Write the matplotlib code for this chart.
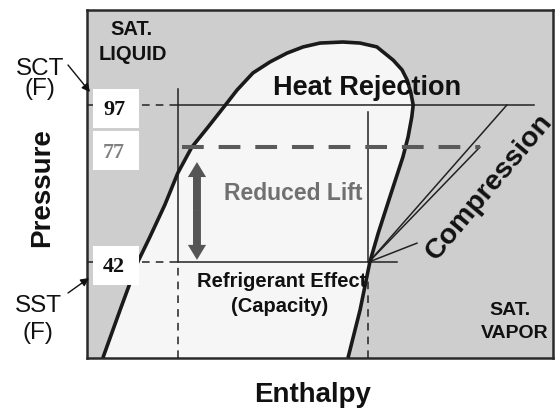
import matplotlib
matplotlib.use("Agg")
import matplotlib.pyplot as plt
from matplotlib.patches import Rectangle
from matplotlib.transforms import Affine2D

# saturation dome (enthalpy, pressure) in schematic units 0..100
dome_h = [3.4, 7.1, 10.9, 13.5, 16.7, 19.5, 22.5, 26.0, 29.7, 32.2, 35.6, 39.3,
          42.9, 46.4, 50.0, 54.9, 58.6, 62.2, 65.7, 67.6, 68.7, 69.5, 70.0, 69.7,
          68.9, 67.8, 65.0, 62.5, 60.7, 58.6, 56.0]
dome_p = [0.0, 13.8, 27.6, 34.8, 44.0, 53.2, 60.6, 66.4, 72.7, 77.0, 81.9, 85.1,
          87.6, 89.4, 90.5, 90.8, 90.5, 89.4, 85.6, 82.8, 79.9, 76.2, 72.7, 69.3,
          63.5, 57.8, 46.3, 35.9, 27.6, 13.8, 0.0]

# saturation temperatures (F) and their pressure levels
sat_temps = ['97', '77', '42']
sat_p = [72.7, 60.6, 27.6]
temp_colors = ['#111111', '#808080', '#111111']

# cycle enthalpies
h_liquid = 19.5
h_suction = 60.5
h_discharge = [90.1, 84.3]      # discharge at 97 F and 77 F
h_rej_end = 95.9
h_evap_end = 66.5

fig = plt.figure(figsize=(5.56, 4.11), dpi=100)
ax = fig.add_axes([87/556, 53/411, 466/556, 348/411])
ax.set_xlim(0, 100)
ax.set_ylim(0, 100)
ax.set_facecolor('#cecece')
ax.set_xticks([])
ax.set_yticks([])
for s in ax.spines.values():
    s.set_color('#2a2a2a')
    s.set_linewidth(1.8)

# dome
ax.fill(dome_h, dome_p, color='#f6f6f6', zorder=1)
ax.plot(dome_h, dome_p, color='#1a1a1a', lw=2.6, zorder=4, solid_capstyle='butt')

thin = dict(color='#222222', lw=1.1, zorder=3)
dash = dict(color='#222222', lw=1.1, ls=(0, (5, 4)), zorder=3)

p_hi, p_mid, p_lo = sat_p

# heat rejection line at 97
ax.plot([0, h_liquid], [p_hi, p_hi], **dash)
ax.plot([h_liquid, h_rej_end], [p_hi, p_hi], **thin)
# evaporation line at 42
ax.plot([0, h_liquid], [p_lo, p_lo], **dash)
ax.plot([h_liquid, h_evap_end], [p_lo, p_lo], **thin)
# verticals
ax.plot([h_liquid, h_liquid], [p_lo, 77.3], **thin)
ax.plot([h_liquid, h_liquid], [0, p_lo], **dash)
ax.plot([h_suction - 0.3, h_suction - 0.3], [p_lo, 70.7], **thin)
ax.plot([h_suction - 0.3, h_suction - 0.3], [0, p_lo], **dash)

# reduced condensing at 77
ax.plot([h_liquid + 0.9, h_discharge[1]], [p_mid, p_mid], color='#5a5a5a',
        lw=2.9, ls=(0, (5.4, 3.7)), zorder=5)

# compression lines
ax.plot([h_suction, h_discharge[0]], [p_lo, p_hi], **thin)
ax.plot([h_suction, h_discharge[1]], [p_lo, p_mid], **thin)
ax.plot([h_suction, 70.8], [p_lo, 33.0], **thin)

# reduced lift double arrow
x_arr = 23.6
y_top, y_bot = 56.3, 28.2
y_c = (y_top + y_bot) / 2
for yy in (y_top, y_bot):
    ax.arrow(x_arr, y_c, 0, yy - y_c, width=1.7, head_width=3.9, head_length=4.3,
             length_includes_head=True, color='#555555', lw=0, zorder=6)

# temperature boxes
for t, p, c in zip(sat_temps, sat_p, temp_colors):
    ax.add_patch(Rectangle((1.3, p - 6.5), 9.9, 11.0, facecolor='white',
                           edgecolor='none', zorder=7))
    ax.text(5.8, p - 3.0, t, ha='center', va='baseline', color=c,
            fontsize=16, fontweight='bold', family='Liberation Serif', zorder=8)

# text in image pixel positions
pix = Affine2D().scale(1/100, -1/100).translate(0, 4.11) + fig.dpi_scale_trans
sans = 'Liberation Sans'

def label(x, y, s, size, bold=True, color='#111111', **kw):
    fig.text(x, y, s, transform=pix, fontsize=size, family=sans,
             fontweight='bold' if bold else 'normal', color=color,
             ha=kw.pop('ha', 'center'), va=kw.pop('va', 'baseline'), **kw)

label(131, 35, 'SAT.', 14.5)
label(133, 60, 'LIQUID', 14.5)
label(40, 75, 'SCT', 17.5, bold=False)
label(40, 95, '(F)', 17.5, bold=False)
label(38, 312, 'SST', 17.5, bold=False)
label(38, 339, '(F)', 17.5, bold=False)
label(367, 95, 'Heat Rejection', 19.5)
label(293, 200, 'Reduced Lift', 16.5, color='#707070')
label(282, 287, 'Refrigerant Effect', 14.5)
label(280, 312, '(Capacity)', 14.5)
label(510, 315, 'SAT.', 14)
label(515, 338, 'VAPOR', 14)
label(313, 402, 'Enthalpy', 20)
label(42, 188, 'Pressure', 20, rotation=90, va='center')
label(489, 187, 'Compression', 20.5, rotation=50, va='center', rotation_mode='anchor')

ax.annotate('', xy=(90, 92), xytext=(68, 65), xycoords=pix, textcoords=pix,
            arrowprops=dict(arrowstyle='-|>', color='#111111', lw=1.0,
                            mutation_scale=12, shrinkA=0, shrinkB=0))
ax.annotate('', xy=(89, 278), xytext=(68, 293), xycoords=pix, textcoords=pix,
            arrowprops=dict(arrowstyle='-|>', color='#111111', lw=1.0,
                            mutation_scale=12, shrinkA=0, shrinkB=0))

fig.savefig('out.png', dpi=100)
